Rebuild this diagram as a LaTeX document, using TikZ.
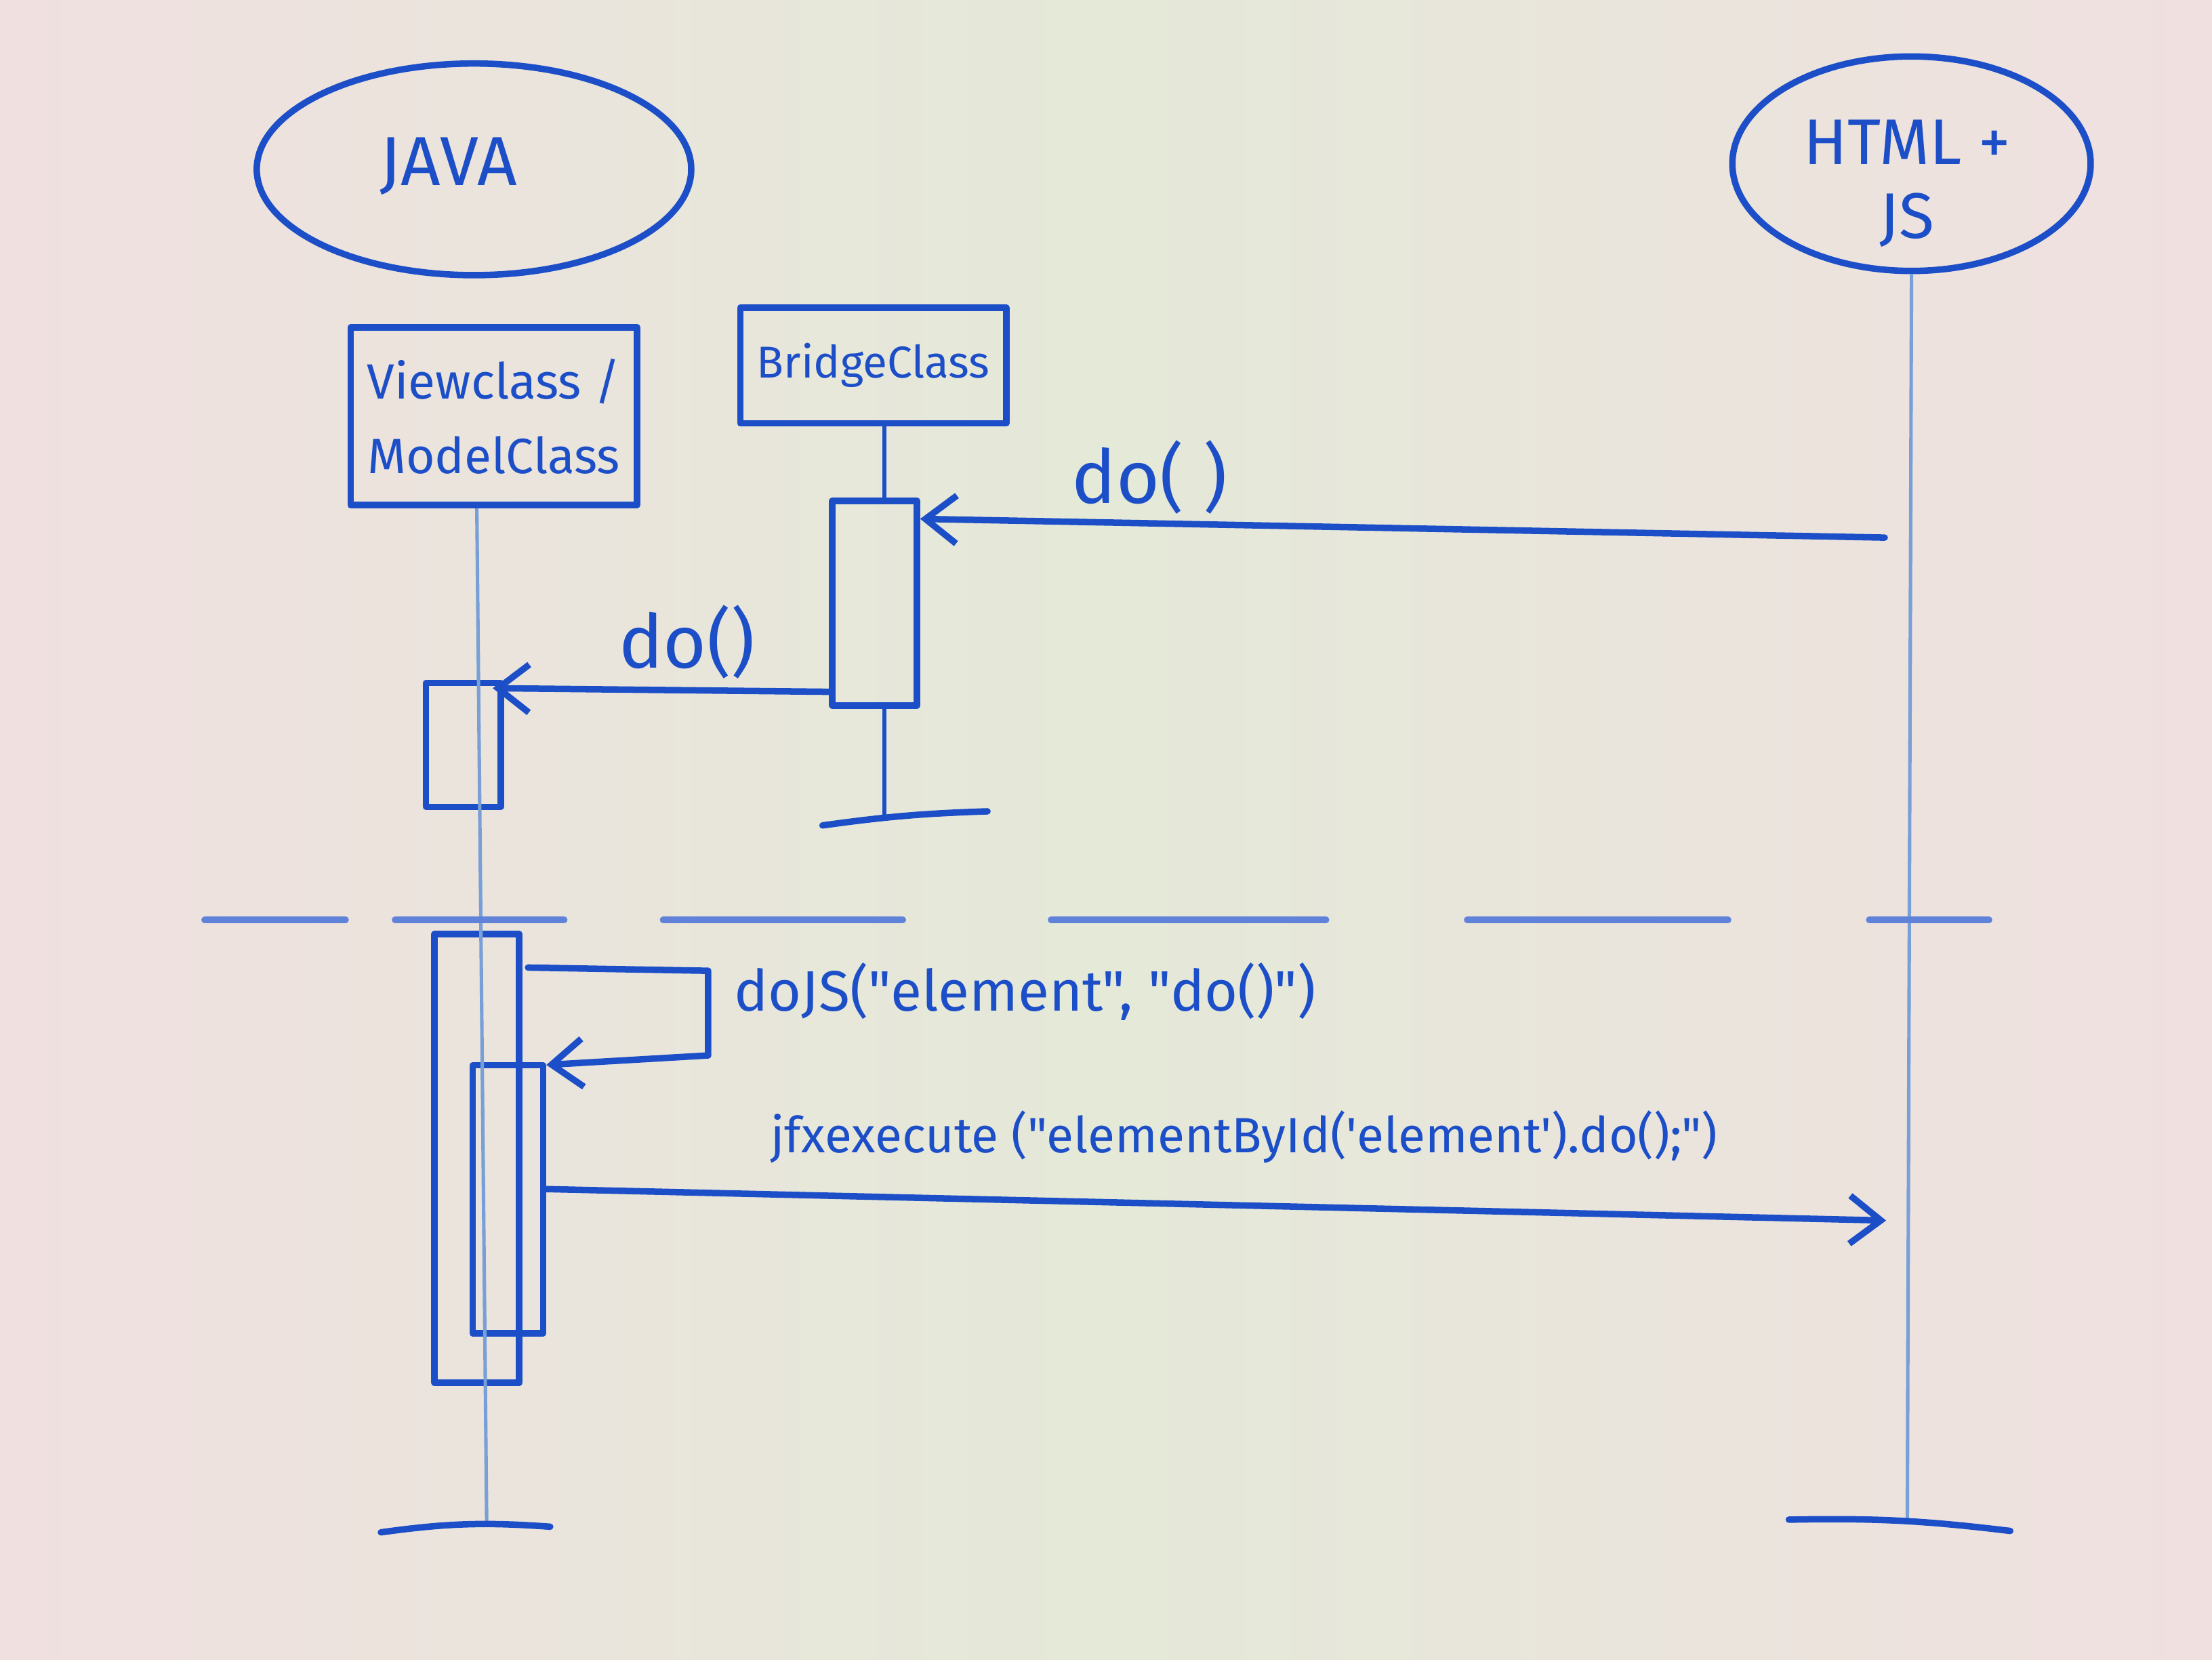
\documentclass[tikz,border=0pt]{standalone}
\usepackage{fontspec}
\setmainfont{Fira Sans}[Ligatures=TeXOff]
\usetikzlibrary{shapes.geometric,arrows.meta,calc}
\definecolor{ink}{RGB}{28,78,200}
\definecolor{inklight}{RGB}{120,160,215}
\definecolor{bgpink}{RGB}{240,224,224}
\definecolor{bggreen}{RGB}{228,233,216}
\begin{document}
\begin{tikzpicture}[x=0.1mm,y=-0.1mm,
  every node/.style={text=ink},
  pen/.style={draw=ink, line width=1.3pt, line cap=round, line join=round},
  thinpen/.style={draw=ink, line width=0.9pt, line cap=round},
  life/.style={draw=inklight, line width=0.7pt},
  actbox/.style={pen, rectangle, inner sep=0pt},
  msg/.style={pen, -{Straight Barb[length=2.2mm,width=3.4mm]}},
  sep/.style={draw=ink!70, line width=1.3pt, line cap=round,
    dash pattern=on 10mm off 3.5mm on 12mm off 7mm on 17mm off 10.5mm on 19.5mm off 10mm on 18.5mm off 10mm on 8.5mm off 10mm}
]
\shade[left color=bgpink, right color=bgpink, middle color=bggreen] (0,0) rectangle (1568,1176);
\useasboundingbox (0,0) rectangle (1568,1176);

% participants
\node[pen, ellipse, minimum width=30.8mm, minimum height=15mm] (java) at (336,120) {};
\node[font=\fontsize{14}{16}\selectfont] (javatext) at (318,118) {JAVA};
\node[pen, ellipse, minimum width=25.4mm, minimum height=15.2mm] (html) at (1355,116) {};
\node[align=center, font=\fontsize{13}{15}\selectfont] (htmltext) at (1352,130) {HTML +\\JS};
\node[pen, rectangle, minimum width=20mm, minimum height=12.6mm, align=center, font=\fontsize{10}{15}\selectfont] (view) at (350,295) {Viewclass /\\ModelClass};
\node[pen, rectangle, minimum width=17.8mm, minimum height=8.2mm, font=\fontsize{9}{11}\selectfont] (bridge) at (619,259) {BridgeClass};

% activations
\node[actbox, minimum width=6mm, minimum height=14.5mm] (b1) at (620,427.5) {};
\node[actbox, minimum width=5.3mm, minimum height=8.8mm] (a1) at (328.5,528) {};
\node[actbox, minimum width=6mm, minimum height=31.8mm] (a2) at (338,821) {};
\node[actbox, minimum width=5mm, minimum height=19mm] (a3) at (360,850) {};

% lifeline ends
\coordinate (vTop) at ($(view.south)+(-12,0)$);
\coordinate (vEnd) at (345,1080);
\coordinate (bTop) at ($(bridge.south)+(8,0)$);
\coordinate (bEnd) at (627,578);
\coordinate (hEnd) at (1352,1080);

% lifelines
\draw[life] (vTop) -- (vEnd);
\draw[life] (html.south) -- (hEnd);
\draw[thinpen] (bTop) -- ($(b1.north)+(7,0)$);
\draw[thinpen] ($(b1.south)+(7,0)$) -- (bEnd);

% end bars
\draw[pen] ($(vEnd)+(-75,6)$) to[bend left=6] ($(vEnd)+(45,2)$);
\draw[pen] ($(bEnd)+(-44,7)$) to[bend left=3] ($(bEnd)+(73,-3)$);
\draw[pen] ($(hEnd)+(-84,-3)$) to[bend left=4] ($(hEnd)+(73,5)$);

% message 1: HTML -> Bridge
\coordinate (h1) at (1336,381);
\draw[msg] (h1) -- ($(b1.north east)+(0,15)$);
\node[font=\fontsize{15}{18}\selectfont] (l1) at (815,338) {do( )};

% message 2: Bridge -> View
\draw[msg] ($(b1.south west)+(0,-12)$) -- ($(a1.north east)+(-8,6)$);
\node[font=\fontsize{15}{18}\selectfont] (l2) at (487,455) {do()};

% separator
\coordinate (sL) at (145,652);
\coordinate (sR) at (1412,652);
\draw[sep] (sL) -- (sR);

% self call doJS
\coordinate (loopTop) at (502,688);
\coordinate (loopBot) at (502,748);
\draw[msg] ($(a2.north east)+(4,26)$) -- (loopTop) -- (loopBot) -- ($(a3.north east)+(0,2)$);
\node[anchor=west, font=\fontsize{11.5}{14}\selectfont] (l3) at (508,703) {doJS("element", "do()")};

% message 4: View -> HTML
\coordinate (h2) at (1337,865);
\draw[msg] ($(a3.north east)+(0,90)$) -- (h2);
\node[font=\fontsize{10}{12}\selectfont] (l4) at (882,806) {jfxexecute ("elementById('element').do();")};
\end{tikzpicture}
\end{document}
